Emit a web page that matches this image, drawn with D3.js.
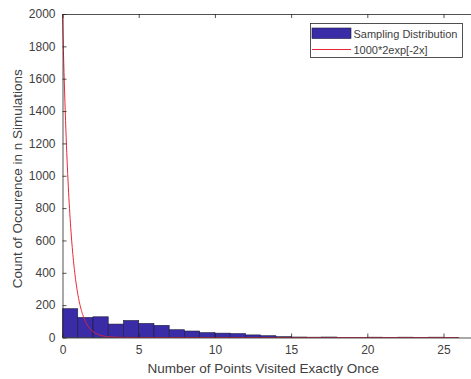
<!DOCTYPE html>
<html>
<head>
<meta charset="utf-8">
<script src="https://cdnjs.cloudflare.com/ajax/libs/d3/7.8.5/d3.min.js"></script>
<style>
  html, body { margin: 0; padding: 0; background: #fff; }
  svg { display: block; font-family: "Liberation Sans", Arial, sans-serif; }
</style>
</head>
<body>
<svg id="chart" width="471" height="379"></svg>
<script>
// ---- data ----
const binStarts = [0,1,2,3,4,5,6,7,8,9,10,11,12,13,14,15,16,17,18,19,20,21,22,23,24,25];
const binCounts = [178,124,128,83,105,87,75,48,40,30,27,24,16,11,5,3,2,3,1,1,2,1,2,1,2,1];
const binWidth = 1;
const xTicks = [0,5,10,15,20,25];
const yTicks = [0,200,400,600,800,1000,1200,1400,1600,1800,2000];
const curveCoef = [1000, 2, -2];   // 1000*2*exp(-2x)
const curveRange = [0, 26];
const legendLabels = ["Sampling Distribution", "1000*2exp[-2x]"];
const xLabel = "Number of Points Visited Exactly Once";
const yLabel = "Count of Occurence in n Simulations";

// ---- layout ----
const svg = d3.select("#chart");
const L = 62.5, R = 474, T = 14, B = 337.5;
const axisColor = "#262626";
const textColor = "#404040";
const x = d3.scaleLinear().domain([0, 27]).range([L, R]);
const y = d3.scaleLinear().domain([0, 2000]).range([B, T]);

svg.append("rect").attr("width", 471).attr("height", 379).attr("fill", "#fff");

// bars
svg.append("g").selectAll("rect").data(binStarts).join("rect")
  .attr("x", (d) => x(d))
  .attr("width", (d) => x(d + binWidth) - x(d))
  .attr("y", (d, i) => y(binCounts[i]))
  .attr("height", (d, i) => y(0) - y(binCounts[i]))
  .attr("fill", "#3a2ba6")
  .attr("stroke", "#1c1c3a")
  .attr("stroke-width", 0.6);

// curve
const pts = d3.range(curveRange[0], curveRange[1] + 1e-9, 0.02);
const line = d3.line().x(d => x(d)).y(d => y(curveCoef[0] * curveCoef[1] * Math.exp(curveCoef[2] * d)));
svg.append("path").datum(pts).attr("d", line)
  .attr("fill", "none").attr("stroke", "#e8283a").attr("stroke-width", 1);

// axes
const gx = svg.append("g").attr("transform", `translate(0,${B})`)
  .call(d3.axisBottom(x).tickValues(xTicks).tickFormat(d3.format("d")).tickSize(-4).tickPadding(8).tickSizeOuter(0));
const gxTop = svg.append("g").attr("transform", `translate(0,${T})`)
  .call(d3.axisTop(x).tickValues(xTicks).tickSize(-4).tickFormat("").tickSizeOuter(0));
const gy = svg.append("g").attr("transform", `translate(${L},0)`)
  .call(d3.axisLeft(y).tickValues(yTicks).tickFormat(d3.format("d")).tickSize(-4).tickPadding(7).tickSizeOuter(0));
[gx, gxTop, gy].forEach(g => {
  g.selectAll(".domain").attr("stroke", axisColor).attr("stroke-width", 0.8);
  g.selectAll(".tick line").attr("stroke", axisColor).attr("stroke-width", 0.8);
  g.selectAll(".tick text").attr("fill", textColor).attr("font-size", 12)
    .attr("font-family", "Liberation Sans, Arial, sans-serif");
});

// axis labels
svg.append("text").attr("x", (L + 474) / 2 - 5).attr("y", 373)
  .attr("text-anchor", "middle").attr("font-size", 13.5).attr("fill", textColor).text(xLabel);
svg.append("text").attr("transform", `translate(22,${(T + B) / 2 + 3}) rotate(-90)`)
  .attr("text-anchor", "middle").attr("font-size", 13.5).attr("fill", textColor).text(yLabel);

// legend
const lg = svg.append("g");
lg.append("rect").attr("x", 310.5).attr("y", 23.5).attr("width", 152).attr("height", 34)
  .attr("fill", "#fff").attr("stroke", axisColor).attr("stroke-width", 0.8);
lg.append("rect").attr("x", 312).attr("y", 28).attr("width", 39).attr("height", 10.5)
  .attr("fill", "#3a2ba6").attr("stroke", "#1c1c3a").attr("stroke-width", 0.6);
lg.append("line").attr("x1", 312).attr("x2", 351).attr("y1", 49.5).attr("y2", 49.5)
  .attr("stroke", "#e8283a").attr("stroke-width", 1);
lg.selectAll("text.lt").data(legendLabels).join("text").attr("class", "lt")
  .attr("x", 353.5).attr("y", (d, i) => 37.5 + i * 16.5)
  .attr("font-size", 11).attr("fill", textColor).text(d => d);
</script>
</body>
</html>
